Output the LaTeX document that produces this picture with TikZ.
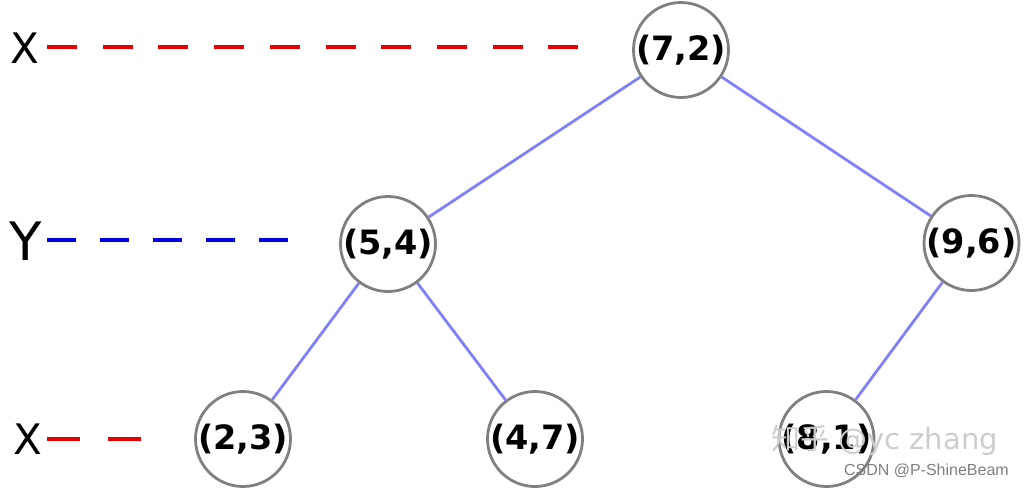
\documentclass[tikz,border=0pt]{standalone}
\usepackage{fontspec}
\setmainfont{DejaVu Sans}
\newfontfamily\cjkfont{Noto Sans CJK SC}
\newfontfamily\arialfont{Liberation Sans}
\definecolor{nodegray}{RGB}{128,128,128}
\definecolor{edgeblue}{RGB}{128,128,250}
\definecolor{dashred}{RGB}{230,0,0}
\definecolor{dashblue}{RGB}{0,0,225}
\definecolor{wmgray}{RGB}{205,205,205}
\begin{document}
\begin{tikzpicture}[x=1pt,y=-1pt,
  kdnode/.style={circle,draw=nodegray,line width=2.8pt,minimum size=95pt,inner sep=0pt,
    font=\fontsize{33.5}{40}\selectfont\bfseries},
  edge/.style={draw=edgeblue,line width=2.8pt},
  axislabel/.style={inner sep=0pt,anchor=center},
  reddash/.style={draw=dashred,line width=3.5pt},
  bluedash/.style={draw=dashblue,line width=3.5pt}]
\useasboundingbox (0,0) rectangle (1024,490);
% nodes
\node[kdnode] (n72) at (681,50) {(7,2)};
\node[kdnode] (n54) at (388,244) {(5,4)};
\node[kdnode] (n96) at (971.5,243) {(9,6)};
\node[kdnode] (n23) at (243,439) {(2,3)};
\node[kdnode] (n47) at (535,439) {(4,7)};
\node[kdnode] (n81) at (826.5,439) {(8,1)};
% edges
\draw[edge] (n72) -- (n54);
\draw[edge] (n72) -- (n96);
\draw[edge] (n54) -- (n23);
\draw[edge] (n54) -- (n47);
\draw[edge] (n96) -- (n81);
% axis labels
\node[axislabel,font=\fontsize{42}{48}\selectfont] (lx1) at (25,48) {X};
\node[axislabel,font=\fontsize{53}{60}\selectfont] (ly) at (26,241) {Y};
\node[axislabel,font=\fontsize{42}{48}\selectfont] (lx2) at (27.5,439) {X};
% dashed guide lines
\coordinate (a1) at (47,47);  \coordinate (b1) at (580,47);
\coordinate (a2) at (47,240); \coordinate (b2) at (289,240);
\coordinate (a3) at (47,439); \coordinate (b3) at (142,439);
\draw[reddash,dash pattern=on 30pt off 25.7pt] (a1) -- (b1);
\draw[bluedash,dash pattern=on 29pt off 24pt] (a2) -- (b2);
\draw[reddash,dash pattern=on 33pt off 28pt] (a3) -- (b3);
% watermark
\node[inner sep=0pt,anchor=west,text=wmgray,font=\fontsize{29}{35}\selectfont] (wm1) at (771,440)
  {{\cjkfont 知乎} @yc zhang};
\node[inner sep=0pt,anchor=east,text=gray,font=\arialfont\fontsize{16}{19}\selectfont] (wm2) at (1009,471)
  {CSDN @P-ShineBeam};
\end{tikzpicture}
\end{document}
